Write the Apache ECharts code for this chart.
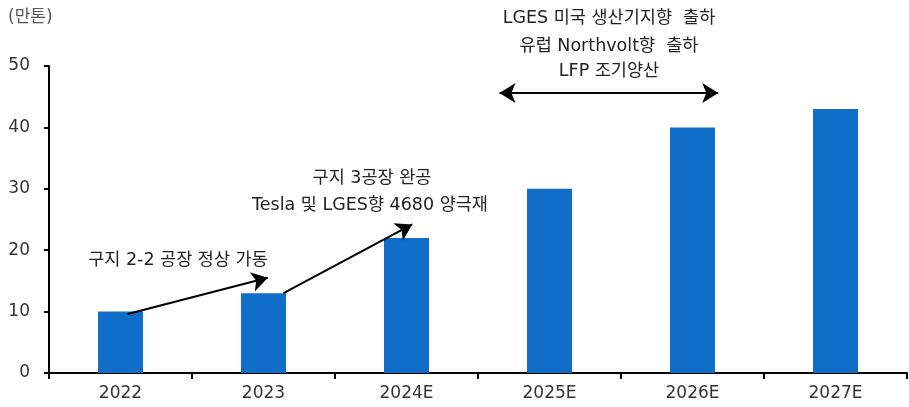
<!DOCTYPE html>
<html>
<head>
<meta charset="utf-8">
<script src="https://cdn.jsdelivr.net/npm/echarts@6/dist/echarts.min.js"></script>
<style>
  html, body { margin: 0; padding: 0; background: #fff; }
  #chart { width: 909px; height: 407px; }
</style>
</head>
<body>
<div id="chart"></div>
<script>
// 연도별 생산 (만톤)
const years = ['2022', '2023', '2024E', '2025E', '2026E', '2027E'];
const capacity = [10, 13, 22, 30, 40, 43];
const yTicks = [0, 10, 20, 30, 40, 50];

// 화살표 주석: [카테고리 위치, 값]
const arrow1 = [[0.05, 9.6], [1.03, 15.5]];
const arrow2 = [[1.14, 13.0], [2.04, 24.2]];
const arrowBoth = [[2.65, 45.6], [4.18, 45.6]];

const font = '"DejaVu Sans", "Noto Sans CJK KR", sans-serif';
const chart = echarts.init(document.getElementById('chart'));

const arrowStyle = { color: '#000', width: 2, type: 'solid' };
const noteStyle = (text) => ({ text, font: '17.5px ' + font, fill: '#222', align: 'center', verticalAlign: 'middle' });

const option = {
  animation: false,
  textStyle: { fontFamily: font },
  grid: { left: 49, right: 2, top: 66, bottom: 34 },
  xAxis: [
    {
      type: 'category',
      data: years,
      axisLine: { lineStyle: { color: '#000', width: 2 } },
      axisTick: { show: true, length: 6, lineStyle: { color: '#000', width: 2 } },
      axisLabel: { color: '#333', fontSize: 17, margin: 12, fontFamily: font }
    },
    {
      type: 'value',
      min: -0.5,
      max: 5.5,
      show: false
    }
  ],
  yAxis: {
    type: 'value',
    min: yTicks[0],
    max: yTicks[yTicks.length - 1],
    interval: 10,
    axisLine: { show: true, onZero: false, lineStyle: { color: '#000', width: 2 } },
    axisTick: { show: true, length: 5, lineStyle: { color: '#000', width: 2 } },
    splitLine: { show: false },
    axisLabel: { color: '#333', fontSize: 17, margin: 19, fontFamily: font }
  },
  series: [
    {
      type: 'bar',
      data: capacity,
      barWidth: 45,
      itemStyle: { color: '#106ec9' }
    },
    {
      type: 'line',
      xAxisIndex: 1,
      data: [],
      markLine: {
        silent: true,
        symbol: ['none', 'arrow'],
        symbolSize: [15, 16],
        label: { show: false },
        lineStyle: arrowStyle,
        data: [
          [{ coord: arrow1[0] }, { coord: arrow1[1] }],
          [{ coord: arrow2[0] }, { coord: arrow2[1] }],
          [{ coord: arrowBoth[0], symbol: 'arrow' }, { coord: arrowBoth[1] }]
        ]
      }
    }
  ],
  graphic: [
    { type: 'text', left: 8, top: 9, style: { text: '(만톤)', font: '17px ' + font, fill: '#555' } },
    { type: 'text', x: 609, y: 18, style: noteStyle('LGES 미국 생산기지향  출하') },
    { type: 'text', x: 609, y: 46, style: noteStyle('유럽 Northvolt향  출하') },
    { type: 'text', x: 609, y: 71, style: noteStyle('LFP 조기양산') },
    { type: 'text', x: 372, y: 178, style: noteStyle('구지 3공장 완공') },
    { type: 'text', x: 370, y: 205, style: noteStyle('Tesla 및 LGES향 4680 양극재') },
    { type: 'text', x: 178, y: 260, style: noteStyle('구지 2-2 공장 정상 가동') }
  ]
};

chart.setOption(option);
</script>
</body>
</html>
